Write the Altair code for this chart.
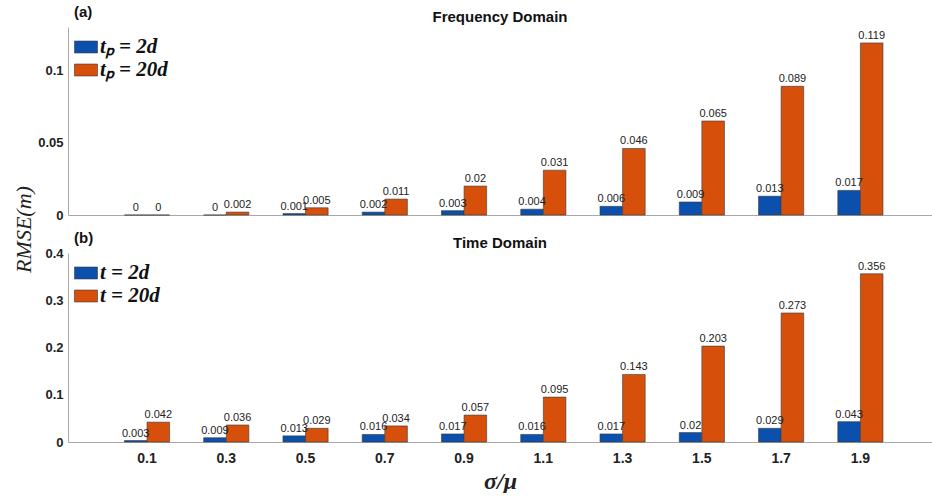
import altair as alt
import pandas as pd

cats = ["0.1", "0.3", "0.5", "0.7", "0.9", "1.1", "1.3", "1.5", "1.7", "1.9"]

freq_labels = ["tₚ = 2d", "tₚ = 20d"]
freq_2d = [0, 0, 0.001, 0.002, 0.003, 0.004, 0.006, 0.009, 0.013, 0.017]
freq_20d = [0, 0.002, 0.005, 0.011, 0.02, 0.031, 0.046, 0.065, 0.089, 0.119]

time_labels = ["t = 2d", "t = 20d"]
time_2d = [0.003, 0.009, 0.013, 0.016, 0.017, 0.016, 0.017, 0.02, 0.029, 0.043]
time_20d = [0.042, 0.036, 0.029, 0.034, 0.057, 0.095, 0.143, 0.203, 0.273, 0.356]

BLUE = "#0b50ad"
ORANGE = "#d64f0b"
SANS = "Liberation Sans"
SERIF = "Liberation Serif"
AXIS_GRAY = "#a8a8a8"


def make_df(a, b, labels):
    rows = []
    for c, va, vb in zip(cats, a, b):
        rows.append({"cat": c, "series": labels[0], "value": va})
        rows.append({"cat": c, "series": labels[1], "value": vb})
    return pd.DataFrame(rows)


def panel(a, b, labels, title, tag, height, ymax, yticks, bottom, ytitle):
    df = make_df(a, b, labels)
    xaxis = alt.Axis(
        title="σ/μ" if bottom else None,
        labels=bottom,
        ticks=False,
        domainColor=AXIS_GRAY,
        labelAngle=0,
        labelFont=SANS,
        labelFontWeight="bold",
        labelFontSize=14,
        labelColor="#222",
        labelPadding=9,
        titleFont=SERIF,
        titleFontStyle="italic",
        titleFontWeight="bold",
        titleFontSize=24,
        titleColor="#222",
        titlePadding=4,
    )
    yaxis_kwargs = dict(
        values=yticks,
        labelExpr="format(datum.value, '~g')",
        grid=False,
        ticks=False,
        domainColor=AXIS_GRAY,
        labelFont=SANS,
        labelFontWeight="bold",
        labelFontSize=13,
        labelColor="#222",
        labelPadding=5,
    )
    if ytitle:
        yaxis_kwargs.update(
            title="RMSE(m)",
            titleFont=SERIF,
            titleFontStyle="italic",
            titleFontSize=22,
            titleFontWeight="normal",
            titleColor="#222",
            titleAngle=270,
            titleAlign="center",
            titleBaseline="middle",
            titleX=-45,
            titleY=202,
        )
    else:
        yaxis_kwargs["title"] = None
    yenc = alt.Y("value:Q", scale=alt.Scale(domain=[0, ymax], nice=False, zero=True),
                 axis=alt.Axis(**yaxis_kwargs))
    base = alt.Chart(df).encode(
        x=alt.X("cat:N", sort=cats,
                scale=alt.Scale(type="band", paddingInner=0.43, paddingOuter=0.665,
                                align=0.535),
                axis=xaxis),
        y=yenc,
    )
    bars = base.mark_bar(stroke="#3a3a3a", strokeWidth=0.6).encode(
        xOffset=alt.XOffset("series:N", sort=labels,
                            scale=alt.Scale(type="band", paddingInner=0, paddingOuter=0)),
        color=alt.Color(
            "series:N",
            sort=labels,
            scale=alt.Scale(domain=labels, range=[BLUE, ORANGE]),
            legend=alt.Legend(
                title=tag,
                orient="none",
                legendX=6,
                legendY=-22,
                titleFont=SANS,
                titleFontSize=15,
                titleFontWeight="bold",
                titleColor="#111",
                titlePadding=15,
                labelFont=SERIF,
                labelFontStyle="italic",
                labelFontWeight="bold",
                labelFontSize=21,
                labelColor="#111",
                labelOffset=2,
                symbolType="M-1,-0.52H1V0.52H-1Z",
                symbolSize=529,
                symbolOpacity=1,
                symbolStrokeColor="#3a3a3a",
                symbolStrokeWidth=0.6,
                rowPadding=1,
            ),
        ),
    )
    text = base.mark_text(dy=-7, font=SANS, fontSize=11, color="#222").encode(
        xOffset=alt.XOffset("series:N", sort=labels,
                            scale=alt.Scale(type="point", padding=0.5)),
        text=alt.Text("value:Q", format="~g"),
    )
    return (bars + text).resolve_scale(xOffset="independent").properties(
        width=864,
        height=height,
        title=alt.TitleParams(title, font=SANS, fontSize=15, fontWeight="bold",
                              color="#111", anchor="middle", offset=4, dy=24),
    )


top = panel(freq_2d, freq_20d, freq_labels, "Frequency Domain", "(a)", 188, 0.13,
            [0, 0.05, 0.1], False, True)
bot = panel(time_2d, time_20d, time_labels, "Time Domain", "(b)", 189, 0.4,
            [0, 0.1, 0.2, 0.3, 0.4], True, False)

chart = (
    alt.vconcat(top, bot, spacing=38, bounds="flush")
    .resolve_scale(color="independent", y="independent")
    .resolve_legend(color="independent")
    .properties(padding={"left": 12, "top": 5, "right": 0, "bottom": 0})
    .configure_view(stroke=None)
)

chart.save("out.html", embed_options={"renderer": "svg", "actions": False})
